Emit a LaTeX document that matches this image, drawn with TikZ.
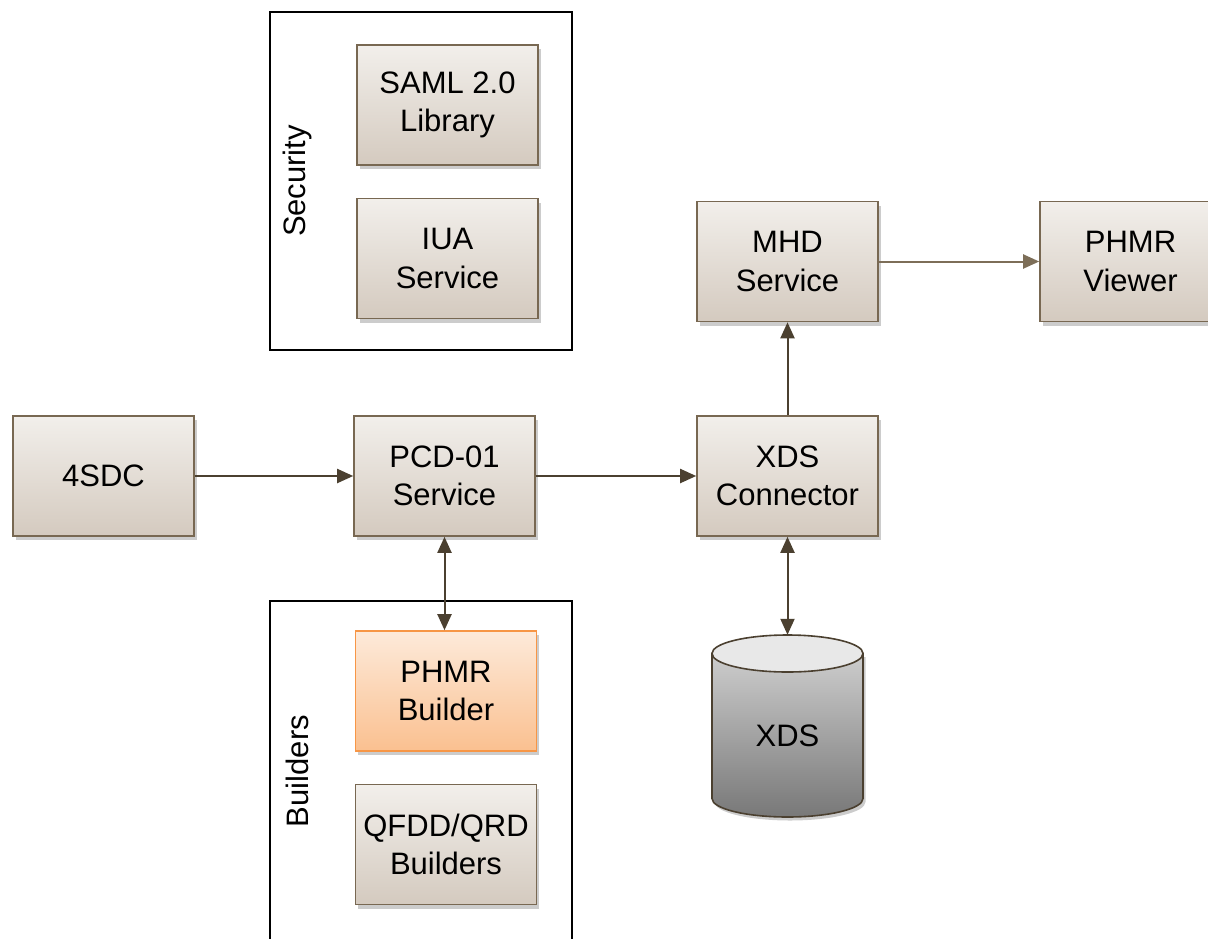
\documentclass[tikz,border=0pt]{standalone}
\usepackage{fontspec}
\setmainfont{Liberation Sans}
\usetikzlibrary{arrows.meta,shadows}
\definecolor{boxtop}{RGB}{242,239,235}
\definecolor{boxbot}{RGB}{212,202,191}
\definecolor{boxline}{RGB}{120,104,82}
\definecolor{arrcol}{RGB}{75,64,48}
\definecolor{arrlight}{RGB}{125,110,88}
\definecolor{ortop}{RGB}{253,234,218}
\definecolor{orbot}{RGB}{250,192,144}
\definecolor{orline}{RGB}{247,150,70}
\definecolor{cyltop}{RGB}{205,205,205}
\definecolor{cylbot}{RGB}{120,120,120}
\definecolor{cylcap}{RGB}{232,232,232}
\begin{document}
\begin{tikzpicture}[x=1pt,y=-1pt,
  every node/.style={font=\fontsize{31}{38.5}\selectfont, align=center},
  blk/.style={rectangle, draw=boxline, line width=1.6pt, top color=boxtop, bottom color=boxbot,
    minimum width=181pt, minimum height=120pt, inner sep=0pt,
    drop shadow={opacity=0.4, shadow xshift=2.5pt, shadow yshift=-4pt}},
  orblk/.style={blk, draw=orline, top color=ortop, bottom color=orbot},
  frame/.style={draw=black, line width=1.4pt},
  arr/.style={draw=arrcol, line width=2pt, -{Triangle[length=16pt,width=14pt]}},
  darr/.style={draw=arrcol, line width=2pt, {Triangle[length=16pt,width=14pt]}-{Triangle[length=16pt,width=14pt]}},
  grplabel/.style={rotate=90}
]
\useasboundingbox (0,0) rectangle (1208,938);
% frames
\draw[frame] (270,12) rectangle (572,350);
\draw[frame] (270,601) rectangle (572,965);
\node[grplabel] (seclbl) at (297,181) {Security};
\node[grplabel] (bldlbl) at (297,771) {Builders};
% boxes
\node[blk] (saml) at (447.5,105) {SAML 2.0\\Library};
\node[blk] (iua) at (447.5,258.5) {IUA\\Service};
\node[blk] (sdc) at (103.5,476) {4SDC};
\node[blk] (pcd) at (444.5,476) {PCD-01\\Service};
\node[blk] (xdsc) at (787.5,476) {XDS\\Connector};
\node[blk] (mhd) at (787.5,261.5) {MHD\\Service};
\node[blk] (viewer) at (1130.5,261.5) {PHMR\\Viewer};
\node[orblk] (phmrb) at (446,691) {PHMR\\Builder};
\node[blk] (qfdd) at (446,844.5) {QFDD/QRD\\Builders};
% cylinder
\fill[black, opacity=0.2] (714.5,657) -- (714.5,802) arc[start angle=180, end angle=360, x radius=75.5pt, y radius=18.5pt] -- (865.5,657) -- cycle;
\path[top color=cyltop, bottom color=cylbot, draw=arrcol, line width=1.6pt]
  (712,653.5) -- (712,798.5) arc[start angle=180, end angle=360, x radius=75.5pt, y radius=18.5pt] -- (863,653.5) -- cycle;
\draw[fill=cylcap, draw=arrcol, line width=1.6pt] (787.5,653.5) ellipse [x radius=75.5pt, y radius=18.5pt];
\node[minimum width=151pt, minimum height=202pt, inner sep=0pt] (xds) at (787.5,736) {XDS};
% connectors
\draw[arr] (sdc) -- (pcd);
\draw[arr] (pcd) -- (xdsc);
\draw[arr] (xdsc) -- (mhd);
\draw[arr, draw=arrlight] (mhd) -- (viewer);
\draw[darr] (pcd.south) -- (pcd.south |- phmrb.north);
\draw[darr] (xdsc) -- (xds);
\end{tikzpicture}
\end{document}
